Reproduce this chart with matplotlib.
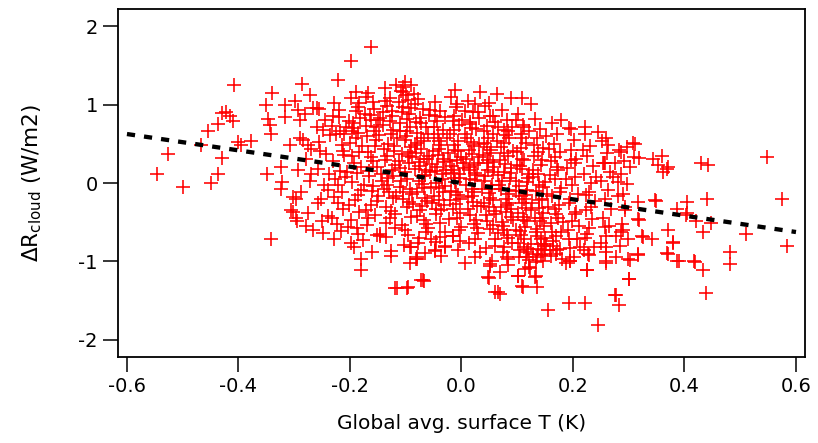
import numpy as np
import matplotlib
matplotlib.use("Agg")
import matplotlib.pyplot as plt

# Points: (global avg. surface T, delta R cloud)
left_tail = [
    (-0.408, 1.25), (-0.430, 0.89), (-0.422, 0.91), (-0.416, 0.85), (-0.410, 0.79),
    (-0.437, 0.75), (-0.455, 0.67), (-0.467, 0.49), (-0.401, 0.52), (-0.396, 0.48),
    (-0.378, 0.54), (-0.526, 0.375), (-0.430, 0.32), (-0.546, 0.12), (-0.436, 0.12),
    (-0.500, -0.05), (-0.450, 0.00),
    (-0.350, 0.99), (-0.340, 1.15), (-0.347, 0.82), (-0.344, 0.74), (-0.342, 0.63),
    (-0.348, 0.12), (-0.341, -0.72), (-0.323, 0.20), (-0.323, -0.07), (-0.322, 0.01),
    (-0.317, 0.99), (-0.317, 0.84), (-0.308, 0.48), (-0.305, -0.35), (-0.302, -0.18),
    (-0.296, -0.20), (-0.295, -0.48), (-0.302, -0.37), (-0.296, -0.45), (-0.299, 1.05),
    (-0.293, 0.93), (-0.290, 0.80), (-0.290, 0.57), (-0.293, 0.16), (-0.286, 1.26),
    (-0.275, 0.48), (-0.272, 1.12), (-0.269, 0.12), (-0.266, 0.96), (-0.266, -0.60),
    (-0.260, 0.96), (-0.260, 0.71), (-0.257, -0.26), (-0.254, 0.41), (-0.251, -0.48),
    (-0.239, -0.09), (-0.236, 0.61), (-0.233, -0.45), (-0.230, 0.86), (-0.229, -0.71),
    (-0.222, 1.32), (-0.221, -0.26), (-0.218, 0.67), (-0.209, 0.08), (-0.207, 0.72),
    (-0.204, -0.56), (-0.198, 1.56), (-0.198, -0.77), (-0.192, 0.70), (-0.190, 1.16),
    (-0.186, 0.97), (-0.186, -0.65), (-0.181, -1.11), (-0.180, -0.97), (-0.176, -0.73),
    (-0.172, 1.10), (-0.163, 1.73), (-0.162, 0.80), (-0.147, -0.65), (-0.146, -0.67),
    (-0.126, -0.87), (-0.119, -1.34), (-0.115, -1.34), (-0.097, -1.34), (-0.073, -1.24),
    (-0.067, -1.25), (-0.092, -0.82), (-0.080, -0.97), (-0.079, -0.94), (-0.048, -0.87),
    (-0.030, -0.82),
]

upper_edge = [
    (-0.102, 1.29), (-0.090, 1.25), (-0.105, 1.16), (-0.096, 1.06), (-0.084, 1.01),
    (-0.011, 1.19), (0.034, 1.16), (0.064, 1.13), (-0.008, 1.01), (0.025, 1.01),
    (0.049, 1.02), (0.088, 1.08), (0.109, 1.08), (0.124, 1.01), (-0.057, 0.93),
    (-0.048, 0.86), (0.030, 0.91), (0.056, 0.85), (0.006, 0.92), (-0.015, 0.79),
    (0.015, 0.75), (0.098, 0.80), (0.065, 0.71), (0.083, 0.67), (0.113, 0.72),
    (-0.111, 0.67), (-0.118, 1.25), (-0.104, 1.22), (-0.086, 1.13), (-0.112, 1.03),
    (-0.091, 0.96), (-0.124, 0.92), (-0.137, 1.05), (-0.081, 0.78), (-0.146, 0.83),
    (-0.157, 0.67), (-0.173, 0.88), (-0.183, 1.02), (-0.201, 0.79), (-0.210, 0.62),
]

lower_edge = [
    (0.006, -1.02), (-0.096, -1.33), (-0.069, -1.24), (-0.081, -0.97), (-0.091, -0.82),
    (-0.048, -0.86), (-0.030, -0.80), (0.033, -0.88), (0.052, -1.03), (0.048, -1.20),
    (0.069, -1.14), (0.065, -1.39), (0.083, -0.97), (0.101, -1.18), (0.109, -1.31),
    (0.122, -1.07), (0.116, -0.94), (0.131, -1.20), (0.077, -0.82), (-0.015, -0.68),
    (0.024, -0.71), (-0.054, -0.71), (-0.078, -0.77), (0.050, -1.21), (0.060, -1.39),
    (0.069, -1.41), (0.102, -1.18), (0.110, -1.32), (0.135, -1.33), (0.123, -1.09),
    (0.134, -1.18), (0.156, -1.62), (0.192, -1.53), (0.222, -1.53), (0.244, -1.81),
    (0.226, -1.11), (0.277, -1.43), (0.283, -1.55), (0.301, -1.23), (0.260, -1.02),
    (0.302, -0.98), (0.317, -0.92), (0.229, -0.92), (0.195, -0.99), (0.188, -1.02),
    (0.220, -0.86), (0.082, -0.95), (0.052, -1.06), (0.112, -0.81), (0.128, -0.90),
    (0.143, -0.92), (0.152, -0.78), (0.160, -0.93), (0.137, -0.84), (0.121, -0.98),
    (0.105, -0.86), (0.170, -0.90), (0.147, -1.00),
]

right_tail = [
    (0.178, 0.81), (0.197, 0.69), (0.221, 0.71), (0.245, 0.65), (0.260, 0.58),
    (0.263, 0.48), (0.296, 0.46), (0.308, 0.51), (0.287, 0.40), (0.310, 0.33),
    (0.303, 0.20), (0.343, 0.31), (0.359, 0.35), (0.353, 0.23), (0.370, 0.20),
    (0.362, 0.14), (0.257, 0.25), (0.275, 0.25), (0.272, 0.08), (0.280, 0.01),
    (0.242, 0.08), (0.290, -0.14), (0.293, -0.31), (0.317, -0.24), (0.347, -0.22),
    (0.317, -0.46), (0.257, -0.56), (0.287, -0.63), (0.323, -0.67), (0.341, -0.72),
    (0.370, -0.60), (0.379, -0.75), (0.370, -0.90), (0.317, -0.90), (0.299, -0.97),
    (0.278, -0.94), (0.260, -0.82), (0.260, -0.99), (0.227, -0.90), (0.226, -1.11),
    (0.194, -0.99), (0.300, -1.22), (0.276, -1.43), (0.319, -0.47), (0.349, -0.23),
    (0.326, -0.69), (0.289, -0.60), (0.278, -0.67), (0.259, -0.88), (0.386, -0.33),
    (0.404, -0.38), (0.434, -0.63), (0.380, -0.77), (0.369, -0.89), (0.387, -0.99),
    (0.419, -1.01), (0.434, -1.11), (0.429, 0.26), (0.442, 0.23), (0.548, 0.33),
    (0.405, -0.24), (0.441, -0.21), (0.575, -0.21), (0.403, -0.41), (0.421, -0.48),
    (0.447, -0.51), (0.511, -0.65), (0.584, -0.80), (0.481, -0.88), (0.481, -1.03),
    (0.417, -1.00), (0.439, -1.40), (0.391, -0.99), (0.311, 0.50), (0.319, 0.32),
    (0.368, 0.18), (0.254, 0.25),
]

# the dense middle of the cloud, estimated column by column
core = [
    (-0.285, 0.55), (-0.278, 0.31), (-0.272, 0.02), (-0.288, -0.12), (-0.275, -0.38),
    (-0.281, 0.88), (-0.270, 0.44), (-0.279, -0.55),
    (-0.255, 0.95), (-0.248, 0.68), (-0.243, 0.37), (-0.258, 0.18), (-0.246, -0.03),
    (-0.252, -0.21), (-0.240, -0.42), (-0.256, 0.52), (-0.244, 0.80), (-0.249, -0.64),
    (-0.238, 0.11),
    (-0.228, 1.02), (-0.219, 0.84), (-0.225, 0.62), (-0.214, 0.49), (-0.231, 0.28),
    (-0.217, 0.15), (-0.222, -0.02), (-0.229, -0.18), (-0.212, -0.33), (-0.224, -0.52),
    (-0.216, -0.61), (-0.233, 0.73), (-0.210, 0.36), (-0.227, 0.05), (-0.214, -0.12),
    (-0.220, 0.93),
    (-0.198, 1.08), (-0.189, 0.92), (-0.194, 0.77), (-0.185, 0.64), (-0.200, 0.51),
    (-0.183, 0.40), (-0.192, 0.26), (-0.187, 0.13), (-0.196, 0.01), (-0.181, -0.09),
    (-0.191, -0.22), (-0.184, -0.37), (-0.199, -0.47), (-0.188, -0.58), (-0.193, -0.81),
    (-0.182, 0.83), (-0.197, 0.35), (-0.186, -0.15), (-0.190, 0.58), (-0.180, 0.20),
    (-0.168, 1.15), (-0.159, 1.03), (-0.164, 0.87), (-0.153, 0.72), (-0.170, 0.60),
    (-0.156, 0.47), (-0.162, 0.33), (-0.151, 0.21), (-0.166, 0.09), (-0.158, -0.04),
    (-0.150, -0.16), (-0.163, -0.28), (-0.155, -0.41), (-0.169, -0.53), (-0.152, -0.66),
    (-0.161, -0.88), (-0.157, 0.95), (-0.167, 0.40), (-0.154, 0.55), (-0.160, -0.10),
    (-0.165, 0.15), (-0.149, 0.80), (-0.171, -0.35),
    (-0.138, 1.21), (-0.129, 1.09), (-0.134, 0.98), (-0.124, 0.85), (-0.140, 0.74),
    (-0.127, 0.62), (-0.132, 0.50), (-0.121, 0.41), (-0.137, 0.29), (-0.125, 0.17),
    (-0.131, 0.06), (-0.139, -0.07), (-0.122, -0.19), (-0.135, -0.30), (-0.128, -0.44),
    (-0.120, -0.57), (-0.136, -0.69), (-0.126, -0.93), (-0.133, 0.35), (-0.123, 0.68),
    (-0.130, -0.12), (-0.141, 0.90), (-0.119, 0.23), (-0.127, -0.36),
    (-0.108, 1.18), (-0.099, 1.12), (-0.104, 0.97), (-0.094, 0.88), (-0.110, 0.76),
    (-0.097, 0.66), (-0.102, 0.55), (-0.091, 0.46), (-0.107, 0.37), (-0.095, 0.25),
    (-0.101, 0.14), (-0.109, 0.03), (-0.092, -0.08), (-0.105, -0.20), (-0.098, -0.31),
    (-0.090, -0.43), (-0.106, -0.54), (-0.096, -0.66), (-0.103, -0.79), (-0.093, -1.02),
    (-0.100, 0.60), (-0.111, 0.19), (-0.089, 0.33), (-0.104, -0.11), (-0.097, 0.82),
    (-0.094, -0.24),
    (-0.078, 1.07), (-0.069, 0.95), (-0.074, 0.83), (-0.064, 0.72), (-0.080, 0.64),
    (-0.067, 0.53), (-0.072, 0.43), (-0.061, 0.31), (-0.077, 0.22), (-0.065, 0.10),
    (-0.071, -0.01), (-0.079, -0.12), (-0.062, -0.23), (-0.075, -0.35), (-0.068, -0.47),
    (-0.060, -0.58), (-0.076, -0.70), (-0.066, -0.89), (-0.073, 0.58), (-0.063, 0.17),
    (-0.070, -0.29), (-0.081, 0.38), (-0.059, 0.87), (-0.067, -0.06), (-0.074, 0.27),
    (-0.064, -0.62),
    (-0.048, 1.03), (-0.039, 0.92), (-0.044, 0.79), (-0.034, 0.68), (-0.050, 0.57),
    (-0.037, 0.48), (-0.042, 0.36), (-0.031, 0.27), (-0.047, 0.15), (-0.035, 0.05),
    (-0.041, -0.06), (-0.049, -0.17), (-0.032, -0.28), (-0.045, -0.40), (-0.038, -0.51),
    (-0.030, -0.63), (-0.046, -0.75), (-0.036, -0.93), (-0.043, 0.62), (-0.033, 0.11),
    (-0.040, -0.22), (-0.051, 0.41), (-0.029, 0.84), (-0.037, -0.35), (-0.044, 0.21),
    (-0.018, 1.10), (-0.009, 0.97), (-0.014, 0.86), (-0.004, 0.74), (-0.020, 0.63),
    (-0.007, 0.54), (-0.012, 0.42), (-0.001, 0.33), (-0.017, 0.22), (-0.005, 0.12),
    (-0.011, 0.01), (-0.019, -0.10), (-0.002, -0.21), (-0.015, -0.33), (-0.008, -0.44),
    (0.000, -0.56), (-0.016, -0.67), (-0.006, -0.85), (-0.013, 0.48), (-0.003, 0.06),
    (-0.010, -0.27), (-0.021, 0.28), (0.001, 0.80), (-0.007, -0.15), (-0.014, 0.17),
    (-0.004, -0.60),
    (0.012, 1.05), (0.021, 0.90), (0.016, 0.78), (0.026, 0.69), (0.010, 0.58),
    (0.023, 0.47), (0.018, 0.37), (0.029, 0.26), (0.013, 0.16), (0.025, 0.04),
    (0.019, -0.07), (0.011, -0.18), (0.028, -0.29), (0.015, -0.41), (0.022, -0.52),
    (0.030, -0.64), (0.014, -0.76), (0.024, -0.95), (0.017, 0.52), (0.027, 0.10),
    (0.020, -0.24), (0.009, 0.31), (0.031, 0.83), (0.023, -0.12), (0.016, 0.21),
    (0.026, -0.47),
    (0.042, 0.98), (0.051, 0.86), (0.046, 0.73), (0.056, 0.63), (0.040, 0.51),
    (0.053, 0.42), (0.048, 0.30), (0.059, 0.20), (0.043, 0.09), (0.055, -0.02),
    (0.049, -0.13), (0.041, -0.25), (0.058, -0.36), (0.045, -0.48), (0.052, -0.59),
    (0.060, -0.71), (0.044, -0.83), (0.054, -0.99), (0.047, 0.57), (0.057, 0.14),
    (0.050, -0.30), (0.039, 0.36), (0.061, 0.78), (0.053, -0.07), (0.046, 0.25),
    (0.056, -0.53),
    (0.072, 0.93), (0.081, 0.80), (0.076, 0.68), (0.086, 0.57), (0.070, 0.46),
    (0.083, 0.35), (0.078, 0.24), (0.089, 0.13), (0.073, 0.02), (0.085, -0.09),
    (0.079, -0.20), (0.071, -0.31), (0.088, -0.43), (0.075, -0.55), (0.082, -0.66),
    (0.090, -0.77), (0.074, -0.88), (0.084, -1.05), (0.077, 0.51), (0.087, 0.07),
    (0.080, -0.37), (0.069, 0.29), (0.091, 0.72), (0.083, -0.14), (0.076, -0.60),
    (0.086, -0.25),
    (0.102, 0.88), (0.111, 0.74), (0.106, 0.62), (0.116, 0.51), (0.100, 0.40),
    (0.113, 0.29), (0.108, 0.18), (0.119, 0.07), (0.103, -0.04), (0.115, -0.15),
    (0.109, -0.26), (0.101, -0.38), (0.118, -0.49), (0.105, -0.61), (0.112, -0.72),
    (0.120, -0.84), (0.104, -0.95), (0.114, -1.10), (0.107, 0.45), (0.117, 0.01),
    (0.110, -0.43), (0.099, 0.23), (0.121, 0.66), (0.113, -0.20), (0.106, -0.66),
    (0.116, -0.32),
    (0.132, 0.82), (0.141, 0.69), (0.136, 0.57), (0.146, 0.45), (0.130, 0.34),
    (0.143, 0.23), (0.138, 0.12), (0.149, 0.01), (0.133, -0.10), (0.145, -0.21),
    (0.139, -0.32), (0.131, -0.44), (0.148, -0.55), (0.135, -0.67), (0.142, -0.78),
    (0.150, -0.90), (0.134, -1.01), (0.144, -0.85), (0.137, 0.39), (0.147, -0.05),
    (0.140, -0.49), (0.129, 0.17), (0.151, 0.60), (0.143, -0.72), (0.136, -0.95),
    (0.146, -0.38),
    (0.162, 0.76), (0.171, 0.62), (0.166, 0.50), (0.176, 0.39), (0.160, 0.28),
    (0.173, 0.16), (0.168, 0.05), (0.179, -0.06), (0.163, -0.17), (0.175, -0.28),
    (0.169, -0.40), (0.161, -0.51), (0.178, -0.63), (0.165, -0.74), (0.172, -0.86),
    (0.180, -0.97), (0.164, -0.80), (0.174, -0.45), (0.167, 0.33), (0.177, -0.12),
    (0.170, -0.68), (0.159, 0.10),
    (0.192, 0.70), (0.201, 0.55), (0.196, 0.42), (0.206, 0.31), (0.190, 0.19),
    (0.203, 0.08), (0.198, -0.03), (0.209, -0.14), (0.193, -0.26), (0.205, -0.37),
    (0.199, -0.49), (0.191, -0.60), (0.208, -0.72), (0.195, -0.83), (0.202, -0.94),
    (0.210, -0.55), (0.194, -0.20), (0.204, 0.25),
    (0.222, 0.62), (0.231, 0.47), (0.226, 0.34), (0.236, 0.22), (0.220, 0.11),
    (0.233, 0.00), (0.228, -0.12), (0.239, -0.23), (0.223, -0.35), (0.235, -0.46),
    (0.229, -0.58), (0.221, -0.70), (0.238, -0.81), (0.225, -0.65), (0.232, -0.30),
    (0.252, 0.54), (0.261, 0.38), (0.256, 0.26), (0.266, 0.14), (0.250, 0.02),
    (0.263, -0.09), (0.258, -0.20), (0.269, -0.33), (0.253, -0.44), (0.265, -0.55),
    (0.259, -0.68), (0.251, -0.76),
    (0.282, 0.42), (0.291, 0.28), (0.286, 0.12), (0.296, -0.01), (0.280, -0.17),
    (0.293, -0.34), (0.288, -0.52), (0.299, -0.71), (0.284, -0.80),
]

center = [
    (-0.145, 0.12), (-0.133, -0.02), (-0.121, 0.47), (-0.117, -0.16), (-0.112, 0.28),
    (-0.098, 0.05), (-0.093, 0.40), (-0.087, -0.27), (-0.083, 0.18), (-0.079, 0.51),
    (-0.071, 0.09), (-0.066, -0.19), (-0.058, 0.35), (-0.055, -0.05), (-0.052, 0.24),
    (-0.046, -0.33), (-0.040, 0.44), (-0.034, -0.11), (-0.028, 0.16), (-0.024, 0.38),
    (-0.020, -0.22), (-0.013, 0.07), (-0.008, 0.29), (-0.003, -0.38), (0.004, 0.19),
    (0.008, -0.03), (0.014, 0.42), (0.019, -0.16), (0.025, 0.13), (0.031, 0.33),
    (0.035, -0.29), (0.040, 0.02), (0.045, 0.46), (0.051, -0.19), (0.056, 0.27),
    (0.062, -0.40), (0.066, 0.10), (0.071, -0.08), (0.077, 0.38), (0.082, -0.28),
    (0.088, 0.19), (0.093, -0.47), (0.097, 0.03), (0.103, -0.17), (0.108, 0.31),
    (0.114, -0.56), (0.118, -0.09), (0.124, -0.34), (0.129, 0.08), (0.134, -0.62),
    (0.139, -0.22), (0.145, -0.45), (0.150, -0.70), (0.155, -0.31), (0.158, -0.86),
    (0.125, -0.78), (0.098, -0.60), (0.065, -0.64),
    (-0.212, 0.41), (-0.205, 0.14), (-0.201, -0.28), (-0.196, 0.66), (-0.178, 0.47),
    (-0.175, -0.02), (-0.171, 0.73), (-0.167, -0.45), (-0.158, 0.28), (-0.152, -0.23),
    (-0.148, 0.61), (-0.143, 0.02), (-0.139, 0.44), (-0.135, -0.51), (-0.128, 0.79),
    (-0.123, 0.09), (-0.119, -0.39), (-0.115, 0.57), (-0.110, -0.05), (-0.106, 0.90),
    (-0.101, -0.60), (-0.096, 0.35), (-0.092, 0.71), (-0.088, -0.14), (-0.084, 0.49),
    (-0.080, -0.42), (-0.076, 0.02), (-0.072, 0.76), (-0.068, 0.31), (-0.063, -0.52),
    (-0.060, 0.62), (-0.056, 0.14), (-0.053, -0.26), (-0.049, 0.72), (-0.045, 0.00),
    (-0.041, 0.53), (-0.038, -0.69), (-0.033, 0.31), (-0.029, -0.04), (-0.026, 0.57),
    (-0.022, -0.46), (-0.018, 0.13), (-0.014, 0.68), (-0.010, -0.12), (-0.006, 0.41),
    (-0.002, -0.74), (0.003, 0.26), (0.007, 0.62), (0.011, -0.33), (0.015, 0.05),
    (0.019, 0.70), (0.023, 0.23), (0.027, -0.58), (0.032, 0.50), (0.036, -0.07),
    (0.040, 0.66), (0.044, -0.41), (0.048, 0.17), (0.052, 0.38), (0.057, -0.22),
    (0.061, -0.80), (0.064, 0.54), (0.068, -0.03), (0.072, -0.50), (0.076, 0.14),
    (0.080, 0.61), (0.084, -0.70), (0.089, -0.33), (0.093, 0.41), (0.097, -0.10),
    (0.101, -0.77), (0.105, 0.22), (0.109, 0.58), (0.113, -0.47), (0.118, -0.88),
    (0.122, 0.12), (0.126, -0.25), (0.130, 0.49), (0.135, -0.59), (0.139, -0.02),
    (0.144, 0.30), (0.148, -0.80), (0.153, -0.14), (0.157, 0.44), (0.162, -0.62),
    (0.167, -0.33), (0.172, 0.21), (0.177, -0.84), (0.182, -0.50), (0.187, 0.05),
    (0.192, -0.72), (0.197, 0.30), (0.203, -0.40), (0.212, -0.82), (0.218, 0.42),
    (0.224, -0.15),
]

# dashed regression line, end points
fit_x = [-0.6, 0.6]
fit_y = [0.625, -0.625]

x_ticks = [-0.6, -0.4, -0.2, 0.0, 0.2, 0.4, 0.6]
x_labels = ["-0.6", "-0.4", "-0.2", "0.0", "0.2", "0.4", "0.6"]
y_ticks = [-2, -1, 0, 1, 2]
y_labels = ["-2", "-1", "0", "1", "2"]

pts = np.array(left_tail + upper_edge + lower_edge + right_tail + core + center)
temp = pts[:, 0]
dR = pts[:, 1]

fig = plt.figure(figsize=(8.18, 4.43), dpi=100)
ax = fig.add_axes([0.1443, 0.194, 0.8397, 0.7857])

ax.plot(temp, dR, linestyle="none", marker="+", markersize=9.5,
        markeredgewidth=1.15, color="#ff0000")
ax.plot(fit_x, fit_y, color="black", linewidth=3.1, linestyle=(0, (1.9, 2.1)))

ax.set_xlim(-0.616, 0.616)
ax.set_ylim(-2.22, 2.22)
ax.set_xticks(x_ticks, x_labels)
ax.set_yticks(y_ticks, y_labels)
ax.tick_params(direction="out", length=10.5, width=1.1, labelsize=14, pad=4,
               top=False, right=False)
for sp in ax.spines.values():
    sp.set_linewidth(1.3)

ax.set_xlabel("Global avg. surface T (K)", fontsize=14.5, labelpad=13)
ax.set_ylabel(r"$\Delta$R$_{\rm cloud}$ (W/m2)", fontsize=15.5)
ax.yaxis.set_label_coords(-0.108, 0.5)

fig.savefig("out.png", dpi=100)
